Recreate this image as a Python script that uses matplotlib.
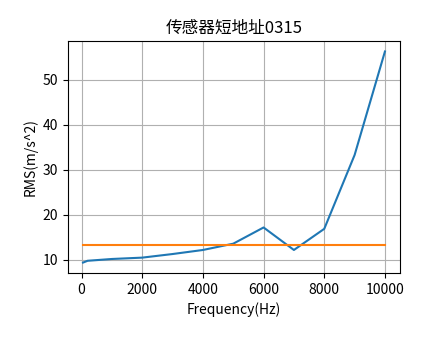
import numpy as np
import matplotlib
matplotlib.use("Agg")
import matplotlib.pyplot as plt

plt.rcParams['font.family'] = ['Noto Sans CJK SC', 'DejaVu Sans']
plt.rcParams['axes.unicode_minus'] = False

# RMS per frequency
freq = [50, 200, 1000, 2000, 3000, 4000, 5000, 6000, 7000, 8000, 9000, 10000]
rms = [9.4, 9.8, 10.2, 10.5, 11.3, 12.2, 13.6, 17.2, 12.2, 16.9, 33.3, 56.3]

# reference level
ref_freq = [50, 10000]
ref_rms = [13.2, 13.2]

fig = plt.figure(figsize=(4.44, 3.41), dpi=100)
ax = fig.add_axes([0.153, 0.199, 0.748, 0.681])

ax.plot(freq, rms)
ax.plot(ref_freq, ref_rms)
ax.set_title("传感器短地址0315")
ax.set_xlabel("Frequency(Hz)")
ax.set_ylabel("RMS(m/s^2)")
ax.grid(True)

fig.savefig("out.png", dpi=100)
